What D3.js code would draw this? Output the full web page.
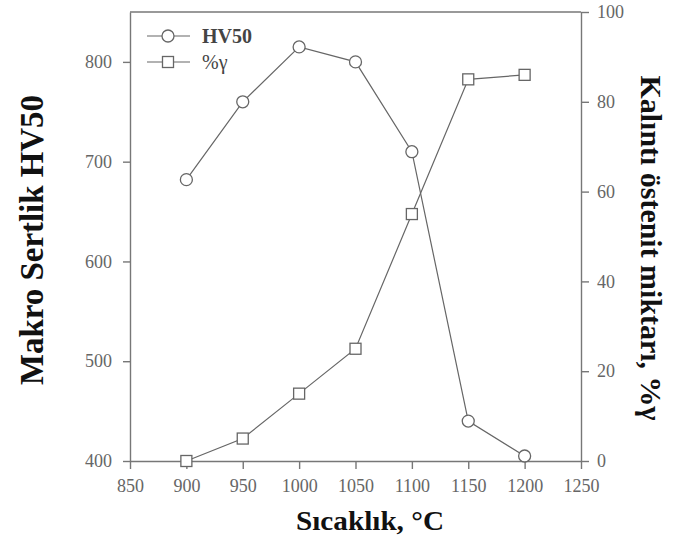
<!DOCTYPE html>
<html><head><meta charset="utf-8">
<script src="https://cdn.jsdelivr.net/npm/d3@7"></script>
<style>body{margin:0;background:#fff}svg{display:block}</style>
</head><body>
<script>
const temps = [900, 950, 1000, 1050, 1100, 1150, 1200];
const hv50 = [682, 760, 815, 800, 710, 440, 405];
const gamma = [0, 5, 15, 25, 55, 85, 86];
const xTicks = [850, 900, 950, 1000, 1050, 1100, 1150, 1200, 1250];
const yLeftTicks = [400, 500, 600, 700, 800];
const yRightTicks = [0, 20, 40, 60, 80, 100];

const W = 673, H = 556;
const m = {l: 130, r: 92, t: 12, b: 95};
const svg = d3.select("body").append("svg").attr("width", W).attr("height", H);
const x = d3.scaleLinear().domain([850, 1250]).range([m.l, W - m.r]);
const yL = d3.scaleLinear().domain([400, 850]).range([H - m.b, m.t]);
const yR = d3.scaleLinear().domain([0, 100]).range([H - m.b, m.t]);

const axisCol = "#777", textCol = "#666";
const font = "'Liberation Serif','Times New Roman',serif";
const fmt = d3.format("d");

function style(g) {
  g.attr("font-family", font).attr("font-size", 18);
  g.selectAll("path,line").attr("stroke", axisCol).attr("stroke-width", 1.4);
  g.selectAll("text").attr("fill", textCol).style("font-family", font).style("font-size", "18px");
}
svg.append("line").attr("x1", m.l).attr("x2", W - m.r).attr("y1", m.t).attr("y2", m.t)
  .attr("stroke", axisCol).attr("stroke-width", 1.4);

const gx = svg.append("g").attr("transform", `translate(0,${H - m.b})`)
  .call(d3.axisBottom(x).tickValues(xTicks).tickFormat(fmt).tickSize(8).tickSizeOuter(0).tickPadding(10));
style(gx);
const gl = svg.append("g").attr("transform", `translate(${m.l},0)`)
  .call(d3.axisLeft(yL).tickValues(yLeftTicks).tickFormat(fmt).tickSize(7).tickSizeOuter(0).tickPadding(11));
style(gl);
const gr = svg.append("g").attr("transform", `translate(${W - m.r},0)`)
  .call(d3.axisRight(yR).tickValues(yRightTicks).tickFormat(fmt).tickSize(8).tickSizeOuter(0).tickPadding(8));
style(gr);

const lineCol = "#666";
const lineL = d3.line().x((d, i) => x(temps[i])).y(d => yL(d));
const lineR = d3.line().x((d, i) => x(temps[i])).y(d => yR(d));
svg.append("path").attr("d", lineR(gamma)).attr("fill", "none").attr("stroke", lineCol).attr("stroke-width", 1.2);
svg.append("path").attr("d", lineL(hv50)).attr("fill", "none").attr("stroke", lineCol).attr("stroke-width", 1.2);
svg.selectAll(".sq").data(gamma).enter().append("rect")
  .attr("x", (d, i) => x(temps[i]) - 5.5).attr("y", d => yR(d) - 5.5).attr("width", 11).attr("height", 11)
  .attr("fill", "#fff").attr("stroke", lineCol).attr("stroke-width", 1.3);
svg.selectAll(".ci").data(hv50).enter().append("circle")
  .attr("cx", (d, i) => x(temps[i])).attr("cy", d => yL(d)).attr("r", 6)
  .attr("fill", "#fff").attr("stroke", lineCol).attr("stroke-width", 1.3);

// legend
const lg = svg.append("g");
const legend = [{label: "HV50", shape: "circle", y: 36, bold: true}, {label: "%γ", shape: "square", y: 62, bold: false}];
legend.forEach(l => {
  lg.append("line").attr("x1", 147).attr("x2", 190).attr("y1", l.y).attr("y2", l.y).attr("stroke", lineCol).attr("stroke-width", 1.2);
  if (l.shape === "circle") lg.append("circle").attr("cx", 168).attr("cy", l.y).attr("r", 6).attr("fill", "#fff").attr("stroke", lineCol).attr("stroke-width", 1.3);
  else lg.append("rect").attr("x", 162.5).attr("y", l.y - 5.5).attr("width", 11).attr("height", 11).attr("fill", "#fff").attr("stroke", lineCol).attr("stroke-width", 1.3);
  lg.append("text").attr("x", 202).attr("y", l.y + 7).text(l.label)
    .style("font-family", font).style("font-size", "20px").style("font-weight", l.bold ? "bold" : "normal").attr("fill", "#444");
});

// titles
svg.append("text").attr("transform", `translate(43,240) rotate(-90)`)
  .attr("text-anchor", "middle").text("Makro Sertlik HV50")
  .attr("textLength", 290).attr("lengthAdjust", "spacingAndGlyphs")
  .style("font-family", font).style("font-size", "34px").style("font-weight", "bold").attr("fill", "#111");
svg.append("text").attr("transform", `translate(641,248) rotate(90)`)
  .attr("text-anchor", "middle").text("Kalıntı östenit miktarı, %γ")
  .attr("textLength", 345).attr("lengthAdjust", "spacingAndGlyphs")
  .style("font-family", font).style("font-size", "29px").style("font-weight", "bold").attr("fill", "#111");
svg.append("text").attr("x", 370).attr("y", 530).attr("text-anchor", "middle").text("Sıcaklık, °C")
  .attr("textLength", 148).attr("lengthAdjust", "spacingAndGlyphs")
  .style("font-family", font).style("font-size", "27px").style("font-weight", "bold").attr("fill", "#111");
</script>
</body></html>
